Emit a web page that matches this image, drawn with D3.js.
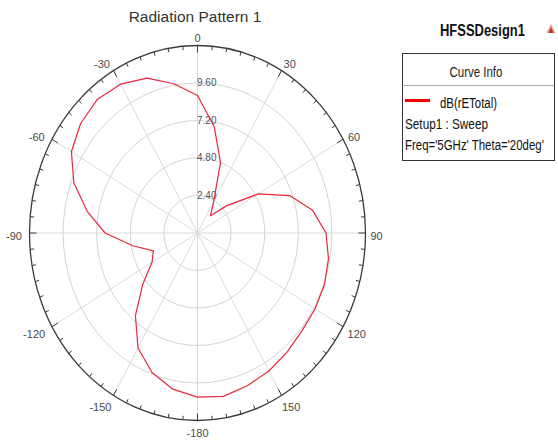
<!DOCTYPE html>
<html><head><meta charset="utf-8">
<script src="https://cdn.jsdelivr.net/npm/d3@7"></script>
<style>html,body{margin:0;padding:0;background:#fff;}svg{display:block;}</style>
</head><body>
<script>
// ---- data ----
const angleDeg = [-180,-170,-160,-150,-140,-130,-120,-110,-100,-90,-80,-70,-60,-50,-40,-30,-20,-10,
                  0,10,20,30,40,50,60,70,80,90,100,110,120,130,140,150,160,170];
const gainDB  = [10.5,10.15,9.5,8.5,6.9,5.1,3.75,3.35,4.7,6.6,8.0,9.4,10.4,10.9,11.15,11.0,10.55,9.7,
                  8.8,6.9,4.8,2.3,1.44,2.7,5.0,7.0,8.35,9.18,9.5,9.65,9.7,9.74,9.95,10.2,10.4,10.62];
const spokeAngles = [0,30,60,90,120,150,180,-150,-120,-90,-60,-30];
const spokeLabels = ["0","30","60","90","120","150","-180","-150","-120","-90","-60","-30"];
const ringValues = [2.4,4.8,7.2,9.6];
const radialDomain = [0,12];
const titleText = "Radiation Pattern 1";
const designText = "HFSSDesign1";
const legendHeader = "Curve Info";
const legendSeries = "dB(rETotal)";
const legendLines = ["Setup1 : Sweep","Freq='5GHz' Theta='20deg'"];

// ---- layout ----
const W = 558, H = 441;
const cx = 197.5, cy = 233, rx = 168, ry = 187.5;
const font = "'Liberation Sans', Arial, sans-serif";

const svg = d3.select("body").append("svg").attr("width", W).attr("height", H);
svg.append("rect").attr("width", W).attr("height", H).attr("fill", "#fff");

const rX = d3.scaleLinear().domain(radialDomain).range([0, rx]);
const rY = d3.scaleLinear().domain(radialDomain).range([0, ry]);
const ang = d3.scaleLinear().domain([0, 360]).range([0, 2 * Math.PI]);
const px = (deg, v) => cx + rX(v) * Math.sin(ang(deg));
const py = (deg, v) => cy - rY(v) * Math.cos(ang(deg));

const g = svg.append("g");

// rings
g.selectAll("ellipse.ring").data(ringValues).join("ellipse")
  .attr("class", "ring").attr("cx", cx).attr("cy", cy)
  .attr("rx", d => rX(d)).attr("ry", d => rY(d))
  .attr("fill", "none").attr("stroke", "#d4d4d4").attr("stroke-width", 1);

// spokes
g.selectAll("line.spoke").data(spokeAngles).join("line")
  .attr("class", "spoke")
  .attr("x1", cx).attr("y1", cy)
  .attr("x2", d => px(d, radialDomain[1])).attr("y2", d => py(d, radialDomain[1]))
  .attr("stroke", "#dadada").attr("stroke-width", 1);

// outer ellipse
g.append("ellipse").attr("cx", cx).attr("cy", cy).attr("rx", rx).attr("ry", ry)
  .attr("fill", "none").attr("stroke", "#3a3a3a").attr("stroke-width", 1.3);

// ticks every 5 deg
const tickAngles = d3.range(0, 360, 5);
const tickEnd = (d) => {
  const L = d % 30 === 0 ? 7 : 4;
  const x = px(d, radialDomain[1]), y = py(d, radialDomain[1]);
  const dx = cx - x, dy = cy - y, n = Math.hypot(dx, dy);
  return [x + dx / n * L, y + dy / n * L];
};
g.selectAll("line.tick").data(tickAngles).join("line")
  .attr("class", "tick")
  .attr("x1", d => px(d, radialDomain[1]))
  .attr("y1", d => py(d, radialDomain[1]))
  .attr("x2", d => tickEnd(d)[0])
  .attr("y2", d => tickEnd(d)[1])
  .attr("stroke", "#3a3a3a").attr("stroke-width", 1);

// angle labels
spokeAngles.forEach((a, i) => {
  const t = g.append("text").text(spokeLabels[i])
    .attr("font-family", font).attr("font-size", 11).attr("fill", "#4a4a4a")
    .attr("text-anchor", "middle");
  const w = t.node().getComputedTextLength();
  const s = Math.sin(ang(a)), c = Math.cos(ang(a));
  const sg = Math.abs(s) < 1e-6 ? 0 : Math.sign(s);
  const ex = px(a, radialDomain[1]), ey = py(a, radialDomain[1]);
  const xoff = s * (5 + w / 2) + sg * Math.abs(c) * 3 + (sg < 0 ? -2.5 : 0);
  const yoff = -c * 10 + 2.5;
  t.attr("x", ex + xoff).attr("y", ey + yoff + 4);
});

// radial labels
g.selectAll("text.rlab").data(ringValues).join("text")
  .attr("class", "rlab")
  .attr("x", cx - 0.5).attr("y", d => cy - rY(d) + 3)
  .attr("font-family", font).attr("font-size", 10).attr("fill", "#555")
  .text(d => d3.format(".2f")(d));

// curve
const pts = angleDeg.map((a, i) => [a, gainDB[i]]);
const line = d3.line().x(d => px(d[0], d[1])).y(d => py(d[0], d[1])).curve(d3.curveLinearClosed);
g.append("path").attr("d", line(pts)).attr("fill", "none")
  .attr("stroke", "#e8283c").attr("stroke-width", 1.2).attr("stroke-linejoin", "round");

// title
svg.append("text").attr("x", 195).attr("y", 22).attr("text-anchor", "middle")
  .attr("font-family", font).attr("font-size", 15.5).attr("fill", "#333").text(titleText);

// helper: place text so that it spans a target width (horizontal condense like reference)
function fitText(parent, str, x, y, width, size, opts = {}) {
  const t = parent.append("text").text(str)
    .attr("font-family", font).attr("font-size", size)
    .attr("fill", opts.fill || "#111")
    .attr("font-weight", opts.weight || "normal");
  const w = t.node().getComputedTextLength();
  const k = width / w;
  const x0 = opts.center ? x - width / 2 : x;
  t.attr("transform", `translate(${x0},${y}) scale(${k},1)`);
  return t;
}

// design name
fitText(svg, designText, 440, 36, 85, 16.5, { weight: "bold", fill: "#111" });

// small logo
svg.append("path").attr("d", "M551,24 L555.5,33 L546.5,33 Z").attr("fill", "#d9a0a0");
svg.append("path").attr("d", "M551,27 L553.5,33 L548.5,33 Z").attr("fill", "#c0392b");

// legend
const lg = svg.append("g");
lg.append("rect").attr("x", 402.5).attr("y", 53.5).attr("width", 152).attr("height", 107)
  .attr("fill", "#fff").attr("stroke", "#333").attr("stroke-width", 1);
lg.append("line").attr("x1", 402.5).attr("x2", 554.5).attr("y1", 85.5).attr("y2", 85.5)
  .attr("stroke", "#aaa").attr("stroke-width", 1);
fitText(lg, legendHeader, 476, 77, 53, 15.5, { center: true, fill: "#222" });
lg.append("line").attr("x1", 405).attr("x2", 430).attr("y1", 100.5).attr("y2", 100.5)
  .attr("stroke", "#f00").attr("stroke-width", 3);
fitText(lg, legendSeries, 440, 107.5, 57, 15.5);
fitText(lg, legendLines[0], 405, 128.5, 83, 15.5);
fitText(lg, legendLines[1], 405, 149.5, 139, 15.5);
</script>
</body></html>
